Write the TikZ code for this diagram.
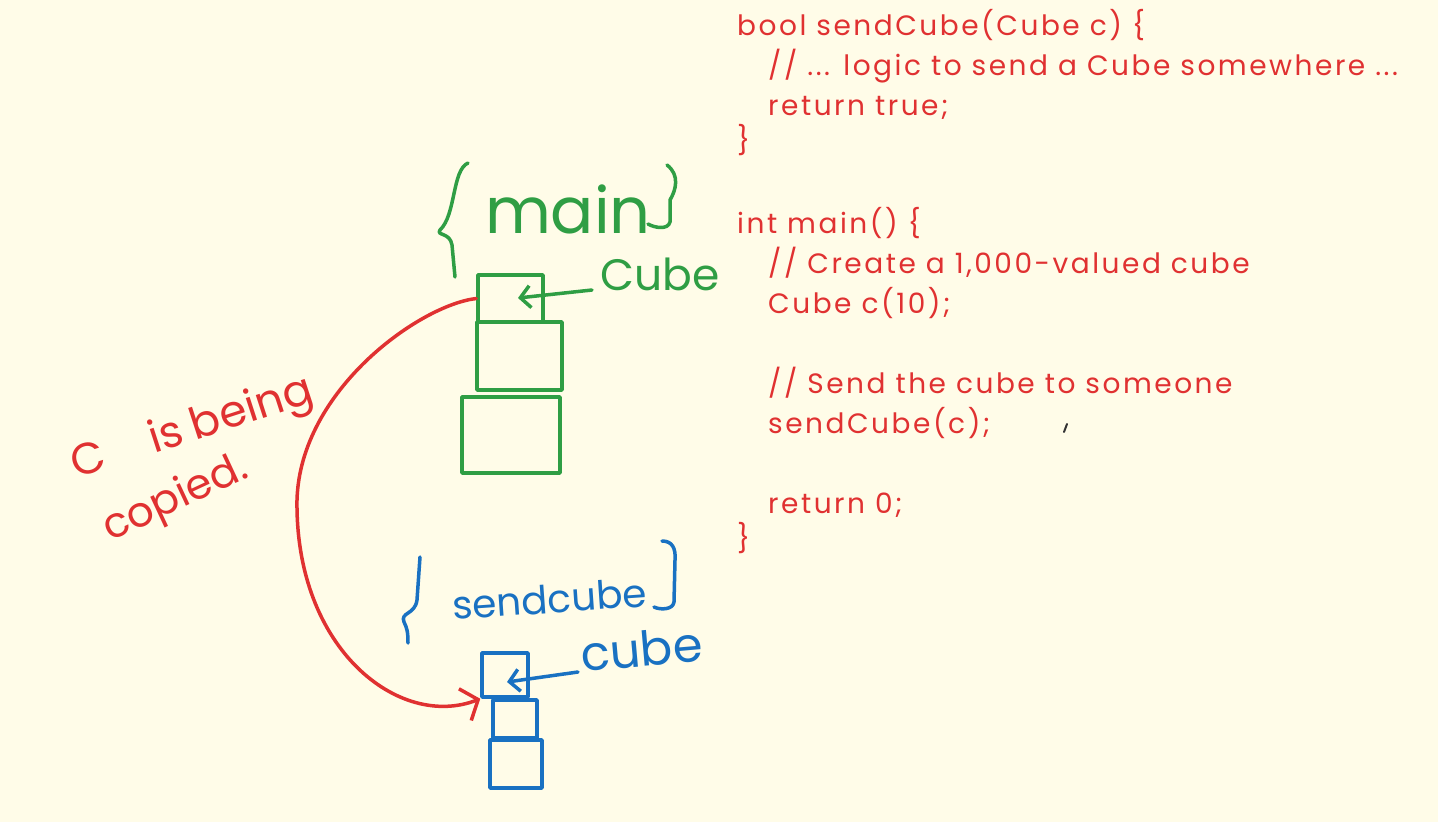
\documentclass[tikz,border=0pt]{standalone}
\usepackage{fontspec}
\setmainfont{Poppins}
\newfontfamily\codefont[LetterSpace=9]{Poppins}
\usepackage{xcolor}
\usepackage{tikz}
\usetikzlibrary{arrows.meta, positioning, calc}

\definecolor{paper}{HTML}{FFFCE8}
\definecolor{inkred}{HTML}{E03131}
\definecolor{inkgreen}{HTML}{2F9E44}
\definecolor{inkblue}{HTML}{1971C2}

\tikzset{
  pen/.style={line width=3.5pt, line cap=round, line join=round},
  gbox/.style={pen, draw=inkgreen, inner sep=0pt},
  bbox/.style={pen, draw=inkblue, inner sep=0pt},
  hand/.style={inner sep=0pt, font=\fontsize{#1}{#1}\selectfont},
  codeblock/.style={inner sep=0pt, align=left, text=inkred, font=\codefont\fontsize{28}{40}\selectfont},
}

\begin{document}
\begin{tikzpicture}[x=1pt, y=-1pt]
\useasboundingbox (0,0) rectangle (1438,822);
\fill[paper] (0,0) rectangle (1438,822);

\node[codeblock, anchor=base west] (sendfn) at (737,150) {bool sendCube(Cube c) \{\\
\hspace*{31pt}// ... logic to send a Cube somewhere ...\\
\hspace*{31pt}return true;\\[-5pt]
\}};
\node[codeblock, anchor=base west] (mainfn) at (737,548) {int main() \{\\
\hspace*{31pt}// Create a 1,000-valued cube\\
\hspace*{31pt}Cube c(10);\\
\mbox{}\\
\hspace*{31pt}// Send the cube to someone\\
\hspace*{31pt}sendCube(c);\\
\mbox{}\\
\hspace*{31pt}return 0;\\[-5pt]
\}};
\draw[line width=2pt, black!80, line cap=round] (1064,432) -- (1067,424);

\node[gbox, minimum width=65pt, minimum height=47pt] (m1) at (510.5,298.5) {};
\node[gbox, minimum width=85pt, minimum height=68pt] (m2) at (519.5,356) {};
\node[gbox, minimum width=98pt, minimum height=76pt] (m3) at (511,435) {};
\coordinate (m1tip) at (518,298);

\node[hand=64, text=inkgreen, anchor=base] (mainlbl) at (568,233) {main};
\node[hand=44, text=inkgreen, anchor=base west] (cubeG) at (600,290) {Cube};
\draw[pen, inkgreen] (468,163) .. controls (452,170) and (456,215) .. (440,230)
  .. controls (436,236) and (450,232) .. (452,245) -- (455,277);
\draw[pen, inkgreen] (667,165) .. controls (680,175) and (676,190) .. (670,200)
  -- (670,222) .. controls (668,230) and (655,228) .. (648,224);
\draw[pen, inkgreen, -{Straight Barb[length=10pt, width=22pt]}] ([xshift=-8pt]cubeG.base west) -- (m1tip);

\node[bbox, minimum width=46pt, minimum height=44pt] (s1) at (505,675) {};
\node[bbox, minimum width=44pt, minimum height=38pt] (s2) at (515,719) {};
\node[bbox, minimum width=52pt, minimum height=48pt] (s3) at (516,764) {};
\coordinate (s1tip) at (507,682);

\node[hand=39, text=inkblue, anchor=base west, rotate=4] (sendlbl) at (453,620) {sendcube};
\node[hand=48, text=inkblue, anchor=base west, rotate=5] (cubeB) at (582,672) {cube};
\draw[pen, inkblue] (420,557) -- (417,600) .. controls (415,615) and (400,612) .. (404,622)
  .. controls (407,628) and (408,632) .. (408,643);
\draw[pen, inkblue] (662,541) .. controls (672,541) and (676,548) .. (675,560)
  -- (674,602) .. controls (673,610) and (660,610) .. (654,607);
\draw[pen, inkblue, -{Straight Barb[length=10pt, width=22pt]}] ([xshift=-4pt]cubeB.base west) -- (s1tip);

\node[hand=44, text=inkred, anchor=base west, rotate=18] (copytxt) at (76,479) {C\hspace{48pt}is\hspace{10pt}being};
\node[hand=42, text=inkred, anchor=base west, rotate=25] (copytxt2) at (110,542) {copied.};
\draw[pen, inkred, -{Straight Barb[length=14pt, width=34pt]}] (m1.west)
  .. controls (420,305) and (300,390) .. (297,500)
  .. controls (295,650) and (400,730) .. (s1.south west);
\end{tikzpicture}
\end{document}
